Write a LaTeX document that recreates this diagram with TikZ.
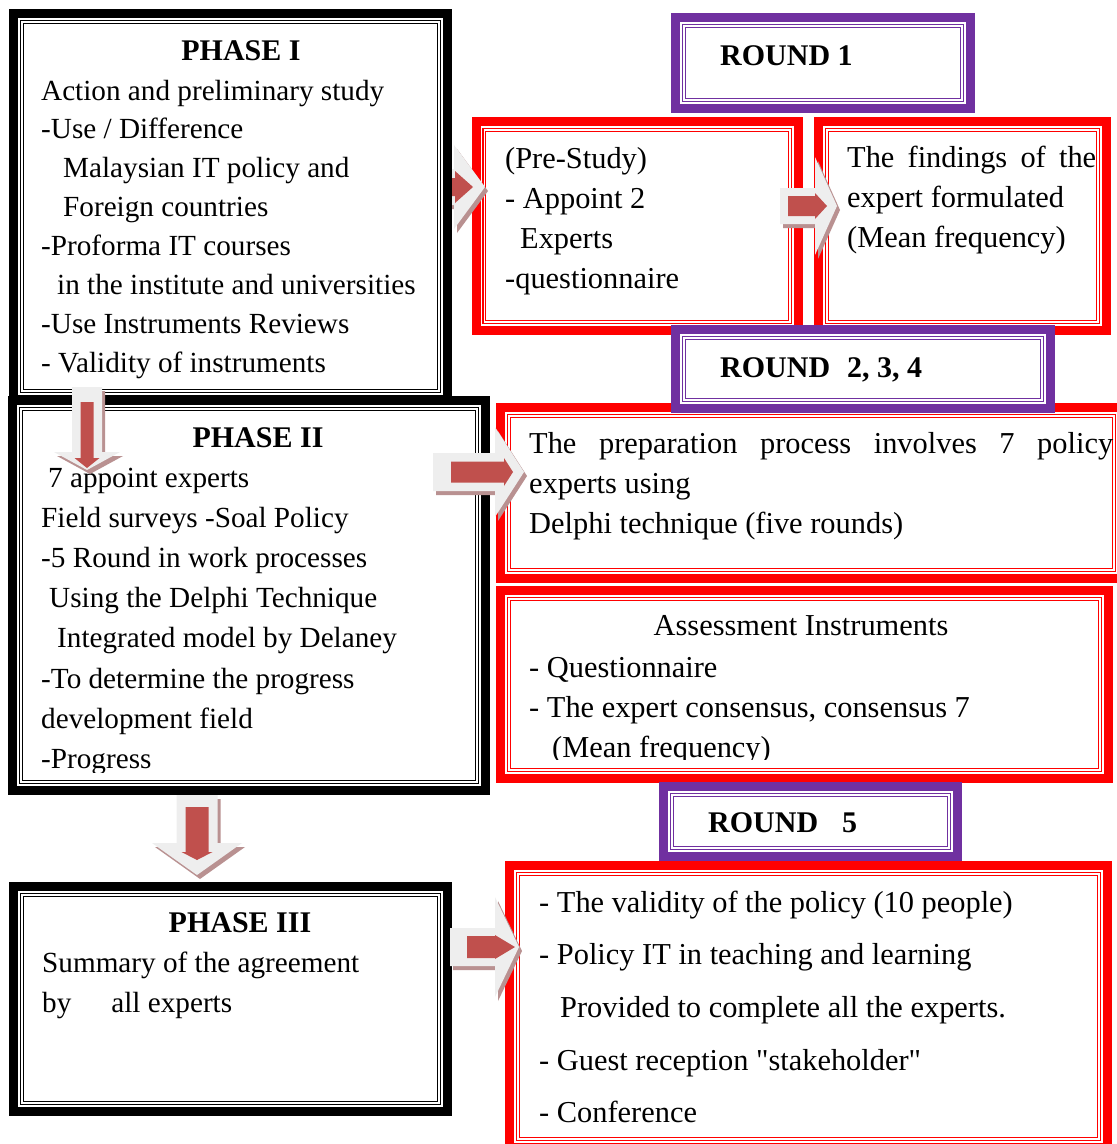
\documentclass[tikz,border=0pt]{standalone}
\usepackage{fontspec}
\setmainfont[Ligatures=TeXOff]{Liberation Serif}
\definecolor{wpurple}{RGB}{112,48,160}
\definecolor{wred}{RGB}{255,0,0}
\definecolor{arred}{RGB}{192,80,77}
\definecolor{argray}{RGB}{238,238,238}
\definecolor{arshadow}{RGB}{185,145,145}
\newcommand{\tribox}[6]{%
  \node[draw=#2, line width=9pt, fill=white, inner sep=0pt, outer sep=0pt, anchor=north west,
        minimum width={(#5-#3-9)*1pt}, minimum height={(#6-#4-9)*1pt}] (#1) at (#3+4.5,#4+4.5) {};
  \draw[#2, line width=1.3pt] ([shift={(7,7)}]#1.north west) rectangle ([shift={(-7,-7)}]#1.south east);
  \draw[#2, line width=0.9pt] ([shift={(9.6,9.6)}]#1.north west) rectangle ([shift={(-9.6,-9.6)}]#1.south east);
}
\newcommand{\setred}[5]{\def\rA{#1}\def\rSW{#2}\def\rH{#3}\def\rHW{#4}\def\rT{#5}}
\newcommand{\barrow}[7]{%
  \begin{scope}[shift={(#1+3,#2+4)},rotate=#3]
    \fill[arshadow] (-#4,-#7) -- (-#5,-#7) -- (-#5,-#6) -- (0,0) -- (-#5,#6) -- (-#5,#7) -- (-#4,#7) -- cycle;
  \end{scope}
  \begin{scope}[shift={(#1,#2)},rotate=#3]
    \fill[argray] (-#4,-#7) -- (-#5,-#7) -- (-#5,-#6) -- (0,0) -- (-#5,#6) -- (-#5,#7) -- (-#4,#7) -- cycle;
    \fill[arred] (-\rA,-\rSW) -- (-\rH,-\rSW) -- (-\rH,-\rHW) -- (-\rT,0) -- (-\rH,\rHW) -- (-\rH,\rSW) -- (-\rA,\rSW) -- cycle;
  \end{scope}}
% multi-line nodes: anchor "base west" = baseline of the LAST line
\tikzset{
  ptxt/.style={anchor=base west, align=left, inner sep=0pt, font=\fontsize{29.2}{38.9}\selectfont},
  ptxtb/.style={anchor=base west, align=left, inner sep=0pt, font=\fontsize{29.2}{40.2}\selectfont},
  rtxt/.style={anchor=base west, align=left, inner sep=0pt, font=\fontsize{30.4}{40}\selectfont},
  r5txt/.style={anchor=base west, align=left, inner sep=0pt, font=\fontsize{30.4}{52.7}\selectfont},
  hdr/.style={inner sep=0pt, font=\bfseries\fontsize{30}{36}\selectfont},
}
\begin{document}
\begin{tikzpicture}[x=1pt,y=-1pt]
\clip (0,0) rectangle (1117,1144);
\fill[white] (0,0) rectangle (1117,1144);

% red boxes
\tribox{pre}{wred}{471.5}{117}{803}{335}
\node[rtxt] (tpre) at (505,288) {(Pre-Study)\\- Appoint 2\\\hspace*{15pt}Experts\\-questionnaire};
\tribox{find}{wred}{814}{117}{1111}{335}
\node[rtxt] (tfind) at (847,247) {\hbox to 249pt{The\hfill findings\hfill of\hfill the}\\expert formulated\\(Mean frequency)};
\tribox{prep}{wred}{496}{403}{1127}{583}
\node[rtxt] (tprep) at (529,533) {\hbox to 584pt{The\hfill preparation\hfill process\hfill involves\hfill 7\hfill policy}\\experts using\\Delphi technique (five rounds)};
\tribox{assess}{wred}{496}{586}{1113}{783}
\node[rtxt, anchor=base] (tassh) at (801,635) {Assessment Instruments};
\begin{scope}
\clip (500,590) rectangle (1100,759.5);
\node[rtxt] (tass) at (529,757) {- Questionnaire\\- The expert consensus, consensus 7\\\hspace*{23pt}(Mean frequency)};
\end{scope}
\tribox{r5c}{wred}{505}{861}{1112}{1152}
\node[r5txt] (tr5c) at (539,1122.8) {- The validity of the policy (10 people)\\- Policy IT in teaching and learning\\\hspace*{21pt}Provided to complete all the experts.\\- Guest reception "stakeholder"\\- Conference};

% purple boxes
\tribox{r1}{wpurple}{671}{13}{975}{113}
\node[hdr, anchor=base west] (tr1) at (720,65) {ROUND 1};
\tribox{r234}{wpurple}{671}{325}{1055}{413}
\node[hdr, anchor=base west] (tr234) at (720,377) {ROUND\hspace{17pt}2, 3, 4};
\tribox{r5}{wpurple}{659}{782}{962}{861}
\node[hdr, anchor=base west] (tr5) at (708,832) {ROUND\hspace{24pt}5};

% arrow A (behind Phase I)
\setred{60}{9}{30}{16}{12}
\barrow{485}{187}{0}{60}{31}{42}{18}

% Phase boxes
\tribox{p1}{black}{9}{9}{452}{404}
\node[hdr, anchor=base] (tp1h) at (241,60) {PHASE I};
\node[ptxt] (tp1) at (41,372.3) {Action and preliminary study\\-Use / Difference\\\hspace*{22pt}Malaysian IT policy and\\\hspace*{22pt}Foreign countries\\-Proforma IT courses\\\hspace*{16pt}in the institute and universities\\-Use Instruments Reviews\\- Validity of instruments};

\tribox{p2}{black}{8}{396}{490}{795}
\node[hdr, anchor=base] (tp2h) at (258,447) {PHASE II};
\begin{scope}
\clip (20,400) rectangle (480,772);
\node[ptxtb] (tp2) at (41,768.4) {\hspace*{7pt}7 appoint experts\\Field surveys -Soal Policy\\-5 Round in work processes\\\hspace*{8pt}Using the Delphi Technique\\\hspace*{16pt}Integrated model by Delaney\\-To determine the progress\\development field\\-Progress};
\end{scope}

\tribox{p3}{black}{9}{882}{452}{1116}
\node[hdr, anchor=base] (tp3h) at (240,932) {PHASE III};
\node[ptxt, font=\fontsize{29.2}{40}\selectfont] (tp3) at (42,1012) {Summary of the agreement\\by\hspace{40pt}all experts};

% arrows on top
\setred{49}{10}{22}{13}{10}
\barrow{837}{206}{0}{57}{22}{49}{18}
\setred{73}{10.5}{20}{14}{11}
\barrow{524}{472}{0}{91}{29}{45}{19}
\setred{52}{11}{24}{12}{4}
\barrow{519}{947}{0}{69}{24}{50}{19}
\setred{68}{6.5}{12}{12.5}{2}
\barrow{87}{470}{-90}{83}{18}{33}{15}
\setred{68}{11.5}{23}{15.5}{15}
\barrow{197}{875}{-90}{80}{32}{45}{20.5}
\end{tikzpicture}
\end{document}
